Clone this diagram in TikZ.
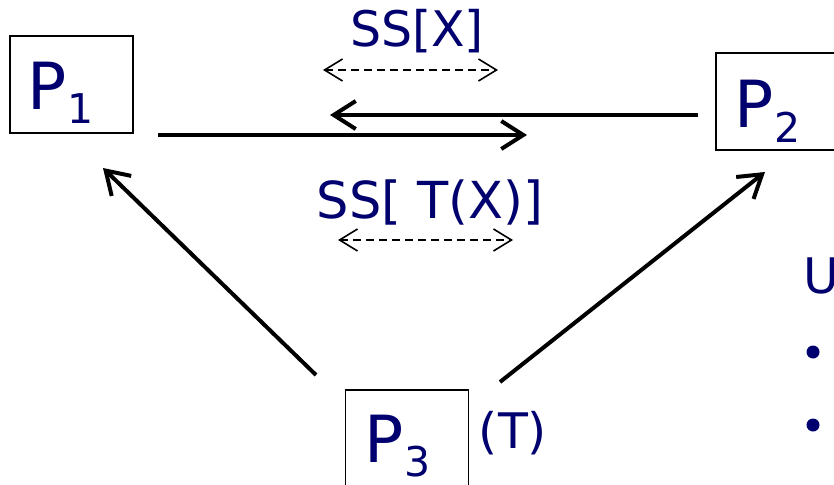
\documentclass[tikz,border=0pt]{standalone}
\usepackage{fontspec}
\setmainfont{DejaVu Sans}
\usetikzlibrary{arrows.meta}
\definecolor{navy}{RGB}{0,0,110}
\newcommand{\procsub}[1]{\kern1pt\raisebox{-14pt}{\fontsize{41}{41}\selectfont #1}}

\begin{document}
\begin{tikzpicture}[x=1pt, y=-1pt,
    procbox/.style={draw, line width=1.5pt, minimum width=123pt, minimum height=97pt, inner sep=0pt},
    plabel/.style={text=navy, inner sep=0pt, font=\fontsize{65}{70}\selectfont, anchor=base west},
    msg/.style={text=navy, inner sep=0pt, font=\fontsize{49}{54}\selectfont, anchor=base},
    sendarrow/.style={line width=4pt, -{Straight Barb[length=22pt, width=28pt]}},
    ssbar/.style={line width=1.6pt, dash pattern=on 8pt off 5pt,
        {Straight Barb[length=18pt, width=22pt]}-{Straight Barb[length=18pt, width=22pt]}},
    dot/.style={circle, fill=navy, minimum size=13pt, inner sep=0pt}]
    \useasboundingbox (0,0) rectangle (834,484);
    \clip (0,0) rectangle (834,484);

    % Processes
    \node[procbox] (p1) at (71.5,84.5) {};
    \node[plabel] (p1lbl) at (27,110) {P\procsub{1}};
    \node[procbox] (p2) at (777.5,101.5) {};
    \node[plabel] (p2lbl) at (734,128) {P\procsub{2}};
    \node[procbox] (p3) at (407,438.5) {};
    \node[plabel] (p3lbl) at (364,462) {P\procsub{3}};
    \node[msg] (ttag) at (513,448) {(T)};

    % Exchange between P1 and P2
    \coordinate (r0) at (158,135); \coordinate (r1) at (527,135);
    \coordinate (l0) at (698,115); \coordinate (l1) at (330,115);
    \draw[sendarrow] (r0) -- (r1);
    \draw[sendarrow] (l0) -- (l1);
    \node[msg] (ssx) at (417,47) {SS[X]};
    \coordinate (a0) at (323,70); \coordinate (a1) at (498,70);
    \draw[ssbar] (a0) -- (a1);
    \node[msg, font=\fontsize{51}{54}\selectfont] (sstx) at (430,218) {SS[ T(X)]};
    \coordinate (b0) at (338,240); \coordinate (b1) at (513,240);
    \draw[ssbar] (b0) -- (b1);

    % P3 sends to both
    \coordinate (d0) at (316,375); \coordinate (d1) at (103,168);
    \coordinate (e0) at (500,382); \coordinate (e1) at (765,172);
    \draw[sendarrow] (d0) -- (d1);
    \draw[sendarrow] (e0) -- (e1);

    % Side text (cut off)
    \node[msg, anchor=base west] (usetxt) at (803,293) {U};
    \node[dot] (dot1) at (813,352) {};
    \node[dot] (dot2) at (813,425) {};
\end{tikzpicture}
\end{document}
